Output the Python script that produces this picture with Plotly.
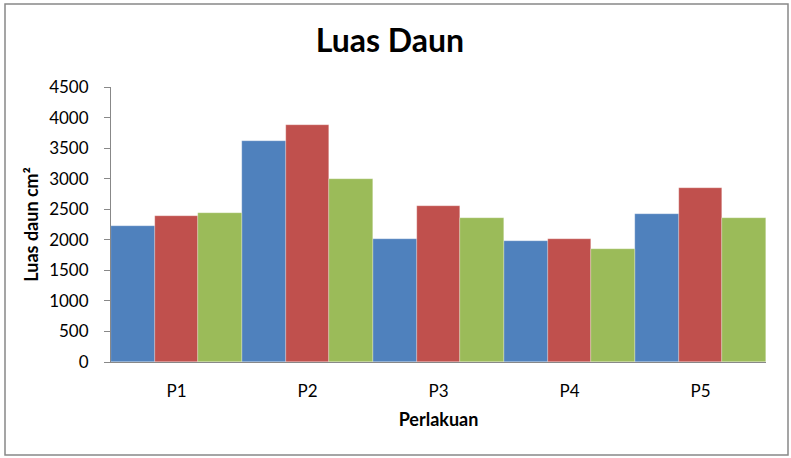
import plotly.graph_objects as go

categories = ["P1", "P2", "P3", "P4", "P5"]
series1 = [2230, 3620, 2020, 1975, 2415]
series2 = [2385, 3880, 2555, 2020, 2850]
series3 = [2435, 3000, 2355, 1850, 2355]
colors = ["#4F81BD", "#C0504D", "#9BBB59"]
names = ["Seri 1", "Seri 2", "Seri 3"]

fig = go.Figure()
for vals, c, n in zip([series1, series2, series3], colors, names):
    fig.add_trace(go.Bar(x=categories, y=vals, name=n,
                         marker=dict(color=c, line=dict(width=0.5, color="rgba(255,255,255,0.5)"))))

font_family = "Lato, Carlito, 'Open Sans', sans-serif"
fig.update_layout(
    width=791, height=458,
    margin=dict(l=111, r=25, t=87, b=96),
    paper_bgcolor="white", plot_bgcolor="white",
    barmode="group", bargap=0, bargroupgap=0,
    showlegend=False,
    font=dict(family=font_family, color="black", size=17),
    title=dict(text="<b>Luas Daun</b>", x=0.493, xanchor="center", y=0.91, yanchor="middle",
               font=dict(size=32, family=font_family, color="black")),
    xaxis=dict(showline=True, linecolor="#888888", linewidth=1, ticks="",
               tickfont=dict(size=17), ticklabelstandoff=14, automargin=False,
               title=dict(text="<b>Perlakuan</b>", font=dict(size=18), standoff=12)),
    yaxis=dict(range=[0, 4500], dtick=500, showgrid=False, showline=True, linecolor="#888888", linewidth=1,
               ticks="outside", ticklen=6, tickcolor="#888888", tickfont=dict(size=17),
               ticklabelstandoff=12, automargin=False,
               title=dict(text="<b>Luas daun cm²</b>", font=dict(size=18), standoff=5)),
    shapes=[dict(type="rect", xref="paper", yref="paper",
                 x0=(5-111)/655, x1=(788-111)/655, y0=(362-455)/275, y1=(362-4)/275,
                 line=dict(color="#888888", width=1.5), fillcolor="rgba(0,0,0,0)", layer="below")],
)
fig.write_html("out.html")
